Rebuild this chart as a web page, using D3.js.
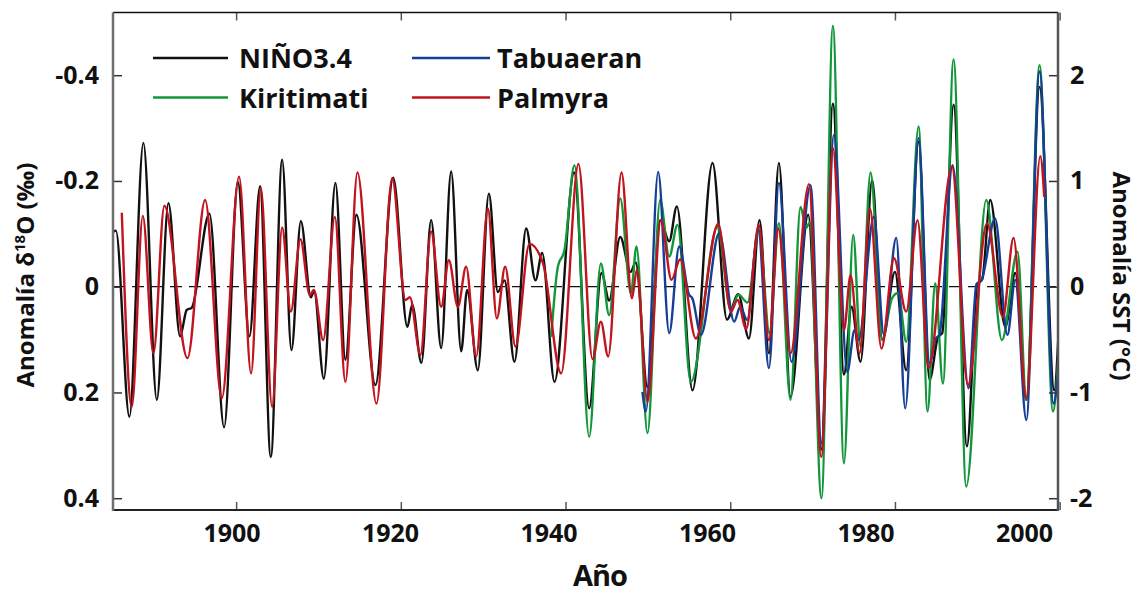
<!DOCTYPE html>
<html>
<head>
<meta charset="utf-8">
<script src="https://cdn.jsdelivr.net/npm/d3@7"></script>
<style>
  body { margin: 0; background: #fff; }
  text { font-family: "Open Sans", sans-serif; font-weight: 700; fill: #111; }
</style>
</head>
<body>
<svg id="chart" width="1140" height="594"></svg>
<script>
// tick values
const xTicks = [1900, 1920, 1940, 1960, 1980, 2000];
const yTicksLeft = [-0.4, -0.2, 0, 0.2, 0.4];
const yTicksRight = [2, 1, 0, -1, -2];

// series: [year, value] (peaks / troughs)
// NIÑO3.4 in °C (right axis), corals in permil (left axis)
const nino34 = [[1885.1,0.52],[1885.4,0.53],[1887.04,-1.23],[1888.74,1.36],[1890.37,-1.07],[1891.78,0.79],[1893.2,-0.47],[1894.0,-0.22],[1894.6,-0.20],[1896.76,0.69],[1898.54,-1.33],[1900.21,0.99],[1901.62,-0.47],[1902.91,0.95],[1904.21,-1.61],[1905.59,1.20],[1906.72,-0.60],[1907.86,0.62],[1909.07,-0.10],[1909.47,-0.04],[1910.65,-0.87],[1912.06,0.98],[1913.27,-0.69],[1914.61,0.68],[1916.92,-0.93],[1919.07,1.03],[1920.80,-0.38],[1921.38,-0.17],[1922.50,-0.72],[1923.68,0.63],[1924.90,-0.58],[1926.11,1.09],[1927.33,-0.61],[1928.05,-0.03],[1929.35,-0.79],[1930.69,0.88],[1931.78,-0.05],[1932.59,0.06],[1933.80,-0.71],[1935.22,0.55],[1936.35,0.06],[1937.16,0.32],[1938.66,-0.90],[1941.05,1.08],[1942.87,-1.15],[1944.37,0.13],[1945.30,-0.13],[1946.64,0.47],[1947.9,0.14],[1948.52,0.23],[1949.95,-0.95],[1951.49,0.63],[1952.59,0.43],[1953.52,0.76],[1955.42,-0.98],[1957.85,1.17],[1959.60,-0.31],[1960.97,-0.07],[1962.27,-0.49],[1963.56,0.63],[1964.70,-0.63],[1965.91,1.17],[1967.32,-1.04],[1969.47,0.68],[1971.05,-1.54],[1972.47,1.73],[1973.81,-0.83],[1974.73,-0.19],[1975.82,-0.71],[1977.24,1.01],[1978.46,-0.50],[1980.00,0.14],[1981.37,-0.79],[1982.87,1.37],[1984.20,-0.88],[1985.26,-0.47],[1985.74,-0.44],[1987.12,1.72],[1988.74,-1.51],[1990.0,0.02],[1990.6,0.07],[1991.57,0.82],[1993.40,-0.38],[1994.61,0.13],[1995.95,-1.07],[1997.56,1.89],[1999.35,-0.98],[1999.83,-0.50]];

const kiritimati = [[1938.26,0.095],[1939.07,-0.038],[1939.87,-0.069],[1941.09,-0.230],[1942.87,0.284],[1944.29,-0.044],[1945.30,0.054],[1946.64,-0.167],[1947.94,0.012],[1948.62,-0.076],[1949.95,0.277],[1951.49,-0.164],[1952.59,-0.057],[1953.60,-0.117],[1955.22,0.180],[1958.45,-0.113],[1960.08,0.044],[1961.0,0.015],[1962.1,0.030],[1963.48,-0.107],[1964.77,0.088],[1965.91,-0.120],[1967.32,0.214],[1968.53,-0.151],[1969.23,-0.111],[1969.65,-0.122],[1971.08,0.400],[1972.47,-0.493],[1973.81,0.334],[1974.93,-0.098],[1975.82,0.113],[1977.04,-0.216],[1978.46,0.101],[1979.67,0.021],[1980.40,0.012],[1981.37,0.104],[1982.87,-0.303],[1983.96,0.236],[1984.89,-0.006],[1985.83,0.183],[1987.12,-0.430],[1988.66,0.378],[1991.09,-0.164],[1992.99,0.101],[1994.89,-0.066],[1995.95,0.214],[1997.56,-0.419],[1999.19,0.236],[1999.83,0.139]];

const tabuaeran = [[1949.34,0.199],[1949.76,0.236],[1951.25,-0.217],[1952.59,0.088],[1953.80,-0.076],[1955.0,0.015],[1955.4,0.022],[1956.44,0.091],[1958.66,-0.101],[1960.48,0.066],[1961.21,0.038],[1962.06,0.063],[1963.40,-0.107],[1964.70,0.154],[1965.91,-0.196],[1967.44,0.142],[1969.75,-0.192],[1971.08,0.296],[1972.59,-0.287],[1974.21,0.161],[1975.10,0.082],[1975.59,0.101],[1977.44,-0.132],[1978.66,0.091],[1980.16,-0.092],[1981.25,0.230],[1982.87,-0.281],[1984.20,0.145],[1985.01,0.097],[1985.38,0.093],[1987.00,-0.230],[1988.94,0.192],[1989.9,-0.005],[1990.5,-0.012],[1992.16,-0.129],[1993.66,0.091],[1994.61,-0.013],[1995.95,0.252],[1997.56,-0.407],[1999.26,0.221],[1999.83,0.158]];

const palmyra = [[1886.12,-0.140],[1887.33,0.227],[1888.67,-0.134],[1889.96,0.126],[1891.29,-0.153],[1894.09,0.135],[1896.24,-0.164],[1898.26,0.211],[1900.36,-0.208],[1901.82,0.164],[1903.00,-0.187],[1904.37,0.227],[1905.59,-0.112],[1906.64,0.047],[1907.81,-0.090],[1908.95,0.016],[1909.44,0.006],[1910.57,0.101],[1911.99,-0.132],[1913.27,0.180],[1914.73,-0.216],[1917.04,0.221],[1918.95,-0.205],[1920.56,0.025],[1921.10,0.020],[1922.38,0.129],[1923.68,-0.104],[1924.90,0.038],[1925.83,-0.050],[1926.93,0.038],[1927.93,-0.038],[1929.15,0.132],[1930.57,-0.148],[1931.66,0.060],[1932.67,-0.038],[1933.92,0.113],[1935.62,-0.081],[1937.25,-0.045],[1939.47,0.164],[1941.57,-0.232],[1943.28,0.137],[1944.29,0.066],[1945.18,0.132],[1946.80,-0.216],[1948.06,0.022],[1948.66,-0.032],[1949.95,0.217],[1951.58,-0.126],[1952.87,-0.013],[1953.92,-0.052],[1955.83,0.098],[1958.54,-0.119],[1960.08,0.047],[1960.88,0.025],[1961.94,0.080],[1963.47,-0.117],[1964.70,0.101],[1965.83,-0.110],[1967.32,0.126],[1969.56,-0.194],[1971.05,0.322],[1972.47,-0.262],[1973.81,0.082],[1974.61,-0.022],[1975.70,0.126],[1976.96,-0.148],[1978.37,0.117],[1979.88,-0.054],[1981.37,0.047],[1982.74,-0.126],[1984.08,0.154],[1986.92,-0.227],[1988.86,0.186],[1991.17,-0.120],[1993.11,0.057],[1994.40,-0.092],[1995.95,0.211],[1997.65,-0.247],[1998.13,-0.170]];

const legendNames = ["NIÑO3.4", "Kiritimati", "Tabuaeran", "Palmyra"];
const colors = { "NIÑO3.4": "#111111", "Kiritimati": "#12963a", "Tabuaeran": "#163e96", "Palmyra": "#c0141e" };

const L = 113, R = 1058, T = 12.5, B = 510;
const svg = d3.select("#chart");

const x = d3.scaleLinear().domain([1885.05, 1999.8]).range([L, R]);
// the year labels in the figure sit a bit off their ticks
const xLab = d3.scaleLinear().domain([1900, 2000]).range([231.5, 1024]);
const yL = d3.scaleLinear().domain([-0.5186, 0.4223]).range([T, B]);
const yR = d3.scaleLinear().domain([2.593, -2.1115]).range([T, B]);

svg.append("clipPath").attr("id", "clip")
  .append("rect").attr("x", L).attr("y", T).attr("width", R - L).attr("height", B - T);

// zero line
svg.append("line")
  .attr("x1", L).attr("x2", R).attr("y1", yL(0)).attr("y2", yL(0))
  .attr("stroke", "#111").attr("stroke-width", 1.3).attr("stroke-dasharray", "12,7");

const lineL = d3.line().x(d => x(d[0])).y(d => yL(d[1])).curve(d3.curveMonotoneX);
const lineR = d3.line().x(d => x(d[0])).y(d => yR(d[1])).curve(d3.curveMonotoneX);

const plot = svg.append("g").attr("clip-path", "url(#clip)");
[["NIÑO3.4", nino34, lineR], ["Kiritimati", kiritimati, lineL], ["Tabuaeran", tabuaeran, lineL], ["Palmyra", palmyra, lineL]]
  .forEach(([name, data, gen]) => {
    plot.append("path").datum(data)
      .attr("d", gen)
      .attr("fill", "none")
      .attr("stroke", colors[name])
      .attr("stroke-width", 2.4)
      .attr("stroke-linejoin", "round");
  });

function noDomain(g) { g.select(".domain").remove(); }

// tick marks
svg.append("g").attr("transform", `translate(0,${B})`)
  .call(d3.axisBottom(x).tickValues(xTicks).tickSize(-8).tickFormat(""))
  .call(noDomain).selectAll("line").attr("stroke", "#555").attr("stroke-width", 1.5);
svg.append("g").attr("transform", `translate(0,${T})`)
  .call(d3.axisTop(x).tickValues(xTicks).tickSize(-8).tickFormat(""))
  .call(noDomain).selectAll("line").attr("stroke", "#555").attr("stroke-width", 1.5);

// year labels
const xl = svg.append("g").attr("transform", `translate(0,${B})`)
  .call(d3.axisBottom(xLab).tickValues(xTicks).tickSize(0).tickPadding(14).tickFormat(d3.format("d")))
  .call(noDomain);
xl.selectAll("text").attr("font-size", 25).attr("fill", "#111").style("font-family", "Open Sans").style("font-weight", 700);

const fmt = d => d === 0 ? "0" : d.toFixed(1);
const yl = svg.append("g").attr("transform", `translate(${L},0)`)
  .call(d3.axisLeft(yL).tickValues(yTicksLeft).tickSize(-9).tickPadding(14).tickFormat(fmt))
  .call(noDomain);
yl.selectAll("line").attr("stroke", "#333").attr("stroke-width", 1.5);
yl.selectAll("text").attr("font-size", 25).attr("fill", "#111").style("font-family", "Open Sans").style("font-weight", 700);

const yr = svg.append("g").attr("transform", `translate(${R},0)`)
  .call(d3.axisRight(yR).tickValues(yTicksRight).tickSize(-9).tickPadding(12).tickFormat(d => d < 0 ? "-" + Math.abs(d) : d))
  .call(noDomain);
yr.selectAll("line").attr("stroke", "#333").attr("stroke-width", 1.5);
yr.selectAll("text").attr("font-size", 25).attr("fill", "#111").style("font-family", "Open Sans").style("font-weight", 700);

// frame
svg.append("line").attr("x1", L).attr("x2", R).attr("y1", T).attr("y2", T).attr("stroke", "#111").attr("stroke-width", 1.5);
svg.append("line").attr("x1", L).attr("x2", R).attr("y1", B).attr("y2", B).attr("stroke", "#222").attr("stroke-width", 2);
svg.append("line").attr("x1", L).attr("x2", L).attr("y1", T).attr("y2", B + 1).attr("stroke", "#6e6e6e").attr("stroke-width", 2.5);
svg.append("line").attr("x1", R).attr("x2", R).attr("y1", T).attr("y2", B + 1).attr("stroke", "#555").attr("stroke-width", 2.5);

// legend
const legPos = [[153, 58], [153, 97.5], [412, 58], [412, 97.5]];
const leg = svg.append("g");
legendNames.forEach((name, i) => {
  const [lx, ly] = legPos[i];
  const len = i < 2 ? 75 : 78;
  leg.append("line").attr("x1", lx).attr("x2", lx + len).attr("y1", ly).attr("y2", ly)
    .attr("stroke", colors[name]).attr("stroke-width", 2.6);
  leg.append("text").attr("x", lx + len + (i < 2 ? 11 : 7)).attr("y", ly + 10)
    .attr("font-size", 27).text(name);
});

// axis titles
svg.append("text").attr("x", 600).attr("y", 586).attr("text-anchor", "middle")
  .attr("font-size", 29).attr("letter-spacing", -1).text("Año");

const lt = svg.append("text").attr("transform", "translate(34,275) rotate(-90)")
  .attr("text-anchor", "middle").attr("font-size", 24);
lt.append("tspan").text("Anomalía δ");
lt.append("tspan").attr("font-size", 15).attr("dy", -9).text("18");
lt.append("tspan").attr("dy", 9).text("O (‰)");

svg.append("text").attr("transform", "translate(1113,276) rotate(90)")
  .attr("text-anchor", "middle").attr("font-size", 24).text("Anomalía SST (°C)");
</script>
</body>
</html>
